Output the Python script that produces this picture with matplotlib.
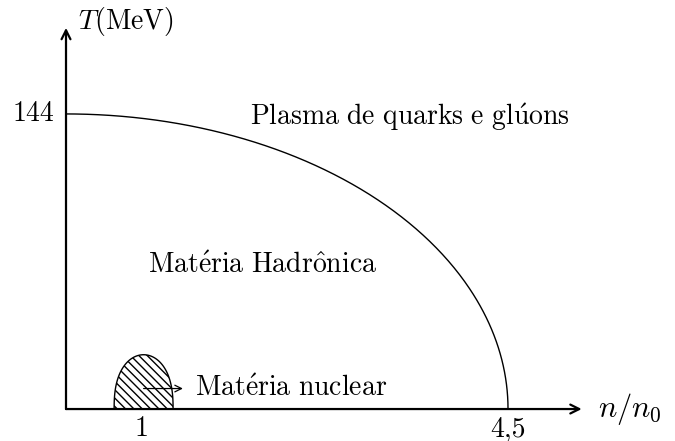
import numpy as np
import matplotlib.pyplot as plt

plt.rcParams['mathtext.fontset'] = 'cm'
plt.rcParams['font.family'] = ['cmr10', 'DejaVu Serif']
plt.rcParams['axes.formatter.use_mathtext'] = True

# phase diagram data (schematic)
T_c = 144.0          # critical temperature at n = 0 (MeV)
n_c = 4.5            # critical density at T = 0 (n/n0)
nuc_center = 0.79    # position of the nuclear matter dome
nuc_halfwidth = 0.30
nuc_height = 26.5
xtick_pos = [0.77, 4.5]
xtick_labels = ['1', '4,5']
ytick_pos = [144]
ytick_labels = ['144']

fig = plt.figure(figsize=(6.75, 4.41), dpi=100)
ax = fig.add_axes([0, 0, 1, 1])
ax.set_xlim(-0.672, 6.20)
ax.set_ylim(-15.6, 199.6)
ax.axis('off')

# axes with arrows
ax.annotate('', xy=(5.25, 0), xytext=(0, 0),
            arrowprops=dict(arrowstyle='->', lw=1.6, color='black',
                            shrinkA=0, shrinkB=0, mutation_scale=16))
ax.annotate('', xy=(0, 186), xytext=(0, 0),
            arrowprops=dict(arrowstyle='->', lw=1.6, color='black',
                            shrinkA=0, shrinkB=0, mutation_scale=16))

# transition line: quarter ellipse
th = np.linspace(0, np.pi / 2, 300)
ax.plot(n_c * np.cos(th), T_c * np.sin(th), color='black', lw=1.0)

# nuclear matter dome (hatched)
ph = np.linspace(0, np.pi, 200)
dx = nuc_center + nuc_halfwidth * np.cos(ph)
dy = nuc_height * np.sin(ph) ** 0.8
ax.fill(dx, dy, facecolor='none', edgecolor='black', hatch='\\\\\\\\', lw=1.0)
ax.annotate('', xy=(1.19, 10), xytext=(nuc_center, 10),
            arrowprops=dict(arrowstyle='->', lw=0.9, color='black',
                            shrinkA=0, shrinkB=0, mutation_scale=12))

# labels
fs = 20
ax.text(1.31, 10, r'$\mathrm{Mat\acute{e}ria\ nuclear}$', fontsize=fs,
        ha='left', va='center')
ax.text(2.0, 70, r'$\mathrm{Mat\acute{e}ria\ Hadr\hat{o}nica}$', fontsize=fs,
        ha='center', va='center')
ax.text(3.50, 142.5, r'$\mathrm{Plasma\ de\ quarks\ e\ gl\acute{u}ons}$',
        fontsize=fs, ha='center', va='center')
ax.text(0.12, 189, r'$T\mathrm{(MeV)}$', fontsize=fs, ha='left', va='center')
ax.text(5.42, 0, r'$n/n_0$', fontsize=fs + 2, ha='left', va='center')

for p, lab in zip(xtick_pos, xtick_labels):
    ax.text(p, -13.4, lab, fontsize=fs, ha='center', va='baseline')
for p, lab in zip(ytick_pos, ytick_labels):
    ax.text(-0.12, p, lab, fontsize=fs, ha='right', va='center')

fig.savefig('out.png', dpi=100)
